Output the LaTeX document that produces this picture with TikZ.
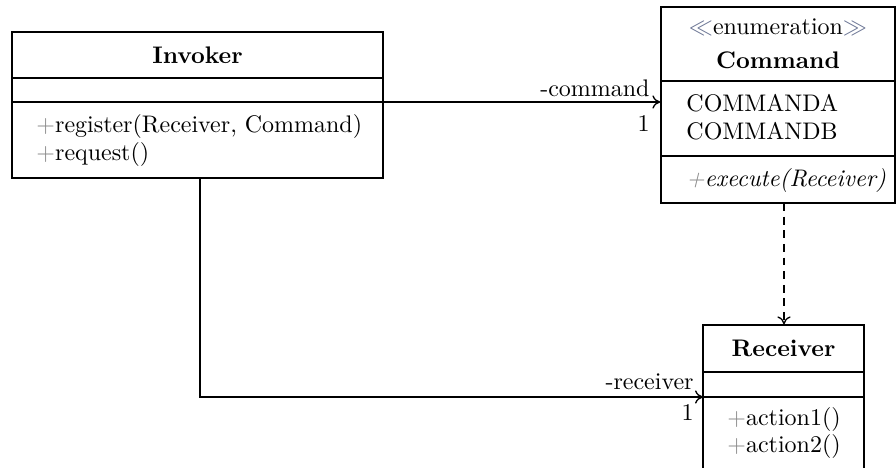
\documentclass[tikz,border=0pt]{standalone}
\usetikzlibrary{fit,calc,arrows.meta}
\definecolor{opgray}{gray}{0.55}
\definecolor{stereo}{rgb}{0.42,0.46,0.58}
\newcommand{\vis}{\textcolor{opgray}{+}}
\tikzset{
  classbox/.style={draw, line width=0.6pt, inner sep=0pt},
  divider/.style={line width=0.6pt},
  assoc/.style={line width=0.6pt, -{To[length=3.6pt,width=6pt]}},
  dep/.style={line width=0.6pt, -{To[length=3.6pt,width=6pt]}, dash pattern=on 3.6pt off 2.6pt},
  lbl/.style={inner sep=0pt, font=\fontsize{10.9}{13}\selectfont},
  title/.style={lbl, font=\fontsize{10.9}{13}\selectfont\bfseries},
}
\begin{document}
\begin{tikzpicture}[x=0.4545pt, y=-0.4545pt]
\clip (0,0) rectangle (896,468);

% Invoker class
\node[classbox, fit={(12,32) (383,178)}] (inv) {};
\coordinate (invA) at (12,78);
\coordinate (invB) at (12,102);
\draw[divider] (invA) -- (invA -| inv.east);
\draw[divider] (invB) -- (invB -| inv.east);
\node[title] (invT) at (197.5,55) {Invoker};
\node[lbl, anchor=west] (invM1) at (36,127) {\vis register(Receiver, Command)};
\node[lbl, anchor=west] (invM2) at (36,155) {\vis request()};

% Command enumeration
\node[classbox, fit={(661,7) (895,203)}] (cmd) {};
\coordinate (cmdA) at (661,81);
\coordinate (cmdB) at (661,156);
\draw[divider] (cmdA) -- (cmdA -| cmd.east);
\draw[divider] (cmdB) -- (cmdB -| cmd.east);
\node[lbl] (cmdS) at (778,27) {\textcolor{stereo}{$\ll$}enumeration\textcolor{stereo}{$\gg$}};
\node[title] (cmdT) at (778,60) {Command};
\node[lbl, anchor=west] (cmdV1) at (686,103) {COMMANDA};
\node[lbl, anchor=west] (cmdV2) at (686,131) {COMMANDB};
\node[lbl, anchor=west] (cmdM1) at (686,181) {\textit{\textcolor{opgray}{+}execute(Receiver)}};

% Receiver class
\node[classbox, fit={(703,325) (864,520)}] (rcv) {};
\coordinate (rcvA) at (703,372);
\coordinate (rcvB) at (703,397);
\draw[divider] (rcvA) -- (rcvA -| rcv.east);
\draw[divider] (rcvB) -- (rcvB -| rcv.east);
\node[title] (rcvT) at (783.5,348) {Receiver};
\node[lbl, anchor=west] (rcvM1) at (727,420) {\vis action1()};
\node[lbl, anchor=west] (rcvM2) at (727,447) {\vis action2()};

% Associations
\draw[assoc] (invB -| inv.east) -- (invB -| cmd.west);
\node[lbl, anchor=east] (lcmd) at (650,88) {-command};
\node[lbl, anchor=east] (mcmd) at (650,124) {1};

\coordinate (invBot) at (200,178);
\draw[assoc] (invBot) |- (rcvB);
\node[lbl, anchor=east] (lrcv) at (694,382) {-receiver};
\node[lbl, anchor=east] (mrcv) at (694,413) {1};

% Dependency
\coordinate (cmdBot) at (784,203);
\draw[dep] (cmdBot) -- (cmdBot |- rcv.north);
\end{tikzpicture}
\end{document}
